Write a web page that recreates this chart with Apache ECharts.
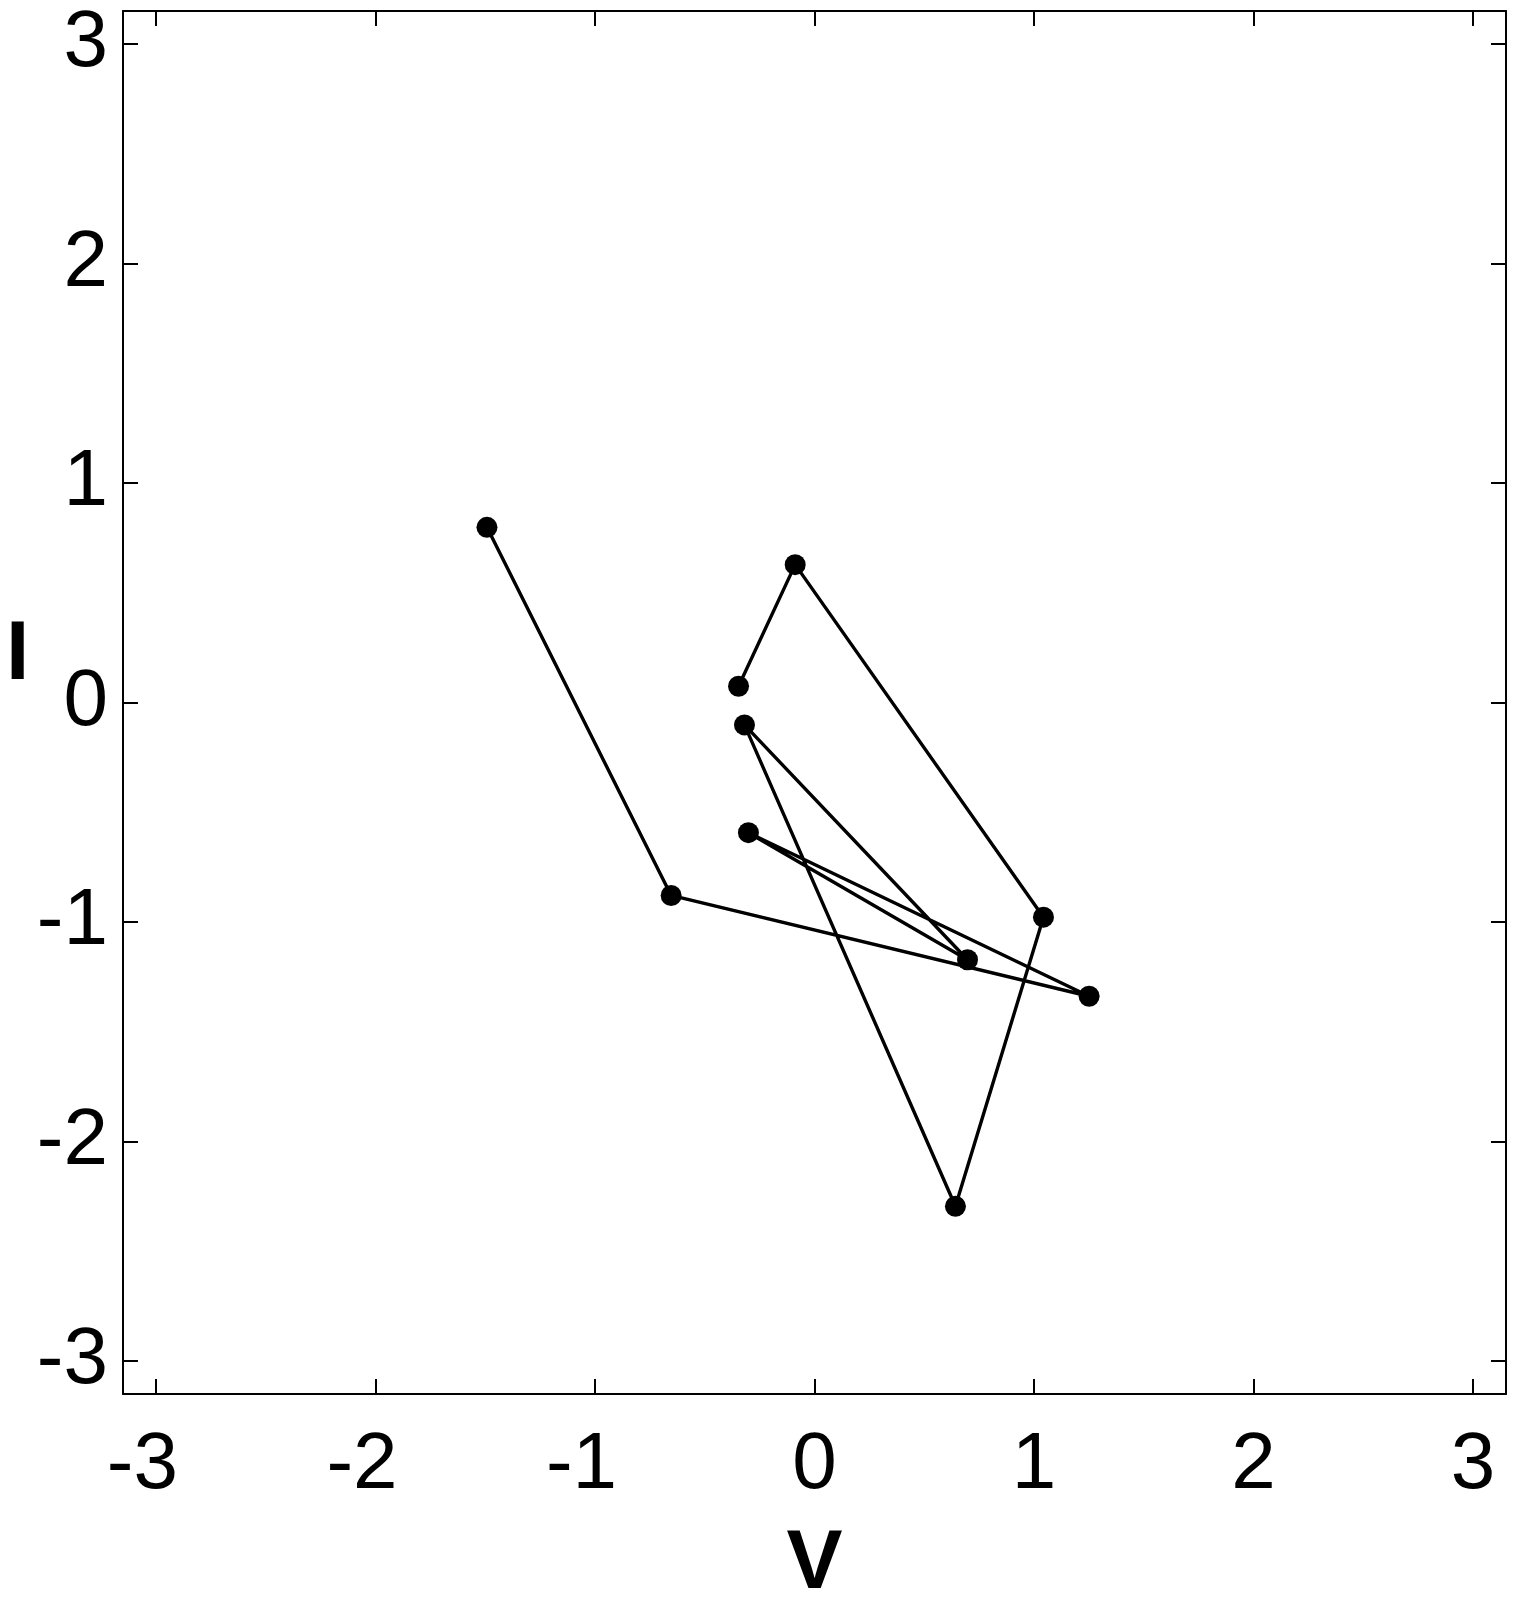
<!DOCTYPE html>
<html>
<head>
<meta charset="utf-8">
<script src="https://cdn.jsdelivr.net/npm/echarts@6/dist/echarts.min.js"></script>
<style>
html,body{margin:0;padding:0;background:#fff;}
#chart{width:1517px;height:1600px;}
</style>
</head>
<body>
<div id="chart"></div>
<script>
// Trajectory in the V–I plane, in drawing order
const vValues = [-1.492, -0.653, 1.251, -0.301, 0.697, -0.319, 0.642, 1.043, -0.088, -0.346];
const iValues = [0.798, -0.879, -1.338, -0.593, -1.172, -0.102, -2.295, -0.978, 0.628, 0.074];
const tickValues = [-3, -2, -1, 0, 1, 2, 3];
const axisMin = -3.15;
const axisMax = 3.15;
const xName = 'V';
const yName = 'I';

const points = vValues.map((v, k) => [v, iValues[k]]);

const FONT = '"Liberation Sans", Arial, Helvetica, sans-serif';
const LABEL_SIZE = 80;

function baseAxis(extra) {
  return Object.assign({
    type: 'value',
    min: axisMin,
    max: axisMax,
    splitLine: { show: false },
    axisLine: { show: true, onZero: false, lineStyle: { color: '#000', width: 2 } },
    axisTick: { show: true, inside: true, length: 15, lineStyle: { color: '#000', width: 2 }, customValues: tickValues },
    axisLabel: { show: false }
  }, extra);
}

const chart = echarts.init(document.getElementById('chart'), null, { renderer: 'canvas' });
chart.setOption({
  backgroundColor: '#fff',
  animation: false,
  grid: { left: 123, right: 11, top: 11, bottom: 206, containLabel: false, outerBoundsMode: 'none' },
  xAxis: [
    baseAxis({
      position: 'bottom',
      name: xName,
      nameLocation: 'middle',
      nameGap: 129,
      nameTextStyle: { color: '#000', fontSize: 84, fontWeight: 'bold', fontFamily: FONT },
      axisLabel: {
        show: true, customValues: tickValues, color: '#000', fontSize: LABEL_SIZE, fontFamily: FONT, margin: 32,
        formatter: v => v < 0 ? '{n|' + v + '}' : '{p|' + v + '}',
        rich: {
          n: { fontSize: LABEL_SIZE, fontFamily: FONT, color: '#000', padding: [0, 27, 0, 0] },
          p: { fontSize: LABEL_SIZE, fontFamily: FONT, color: '#000' }
        }
      }
    }),
    baseAxis({ position: 'top' })
  ],
  yAxis: [
    baseAxis({
      position: 'left',
      axisLabel: { show: true, customValues: tickValues, color: '#000', fontSize: LABEL_SIZE, fontFamily: FONT, margin: 15 }
    }),
    baseAxis({ position: 'right' })
  ],
  graphic: [{
    type: 'text',
    left: 6,
    top: 614,
    style: { text: yName, fill: '#000', font: 'bold 84px ' + FONT }
  }],
  series: [{
    type: 'line',
    xAxisIndex: 0,
    yAxisIndex: 0,
    data: points,
    symbol: 'circle',
    symbolSize: 21,
    showSymbol: true,
    itemStyle: { color: '#000' },
    lineStyle: { color: '#000', width: 3.4 },
    z: 3
  }]
});
</script>
</body>
</html>
